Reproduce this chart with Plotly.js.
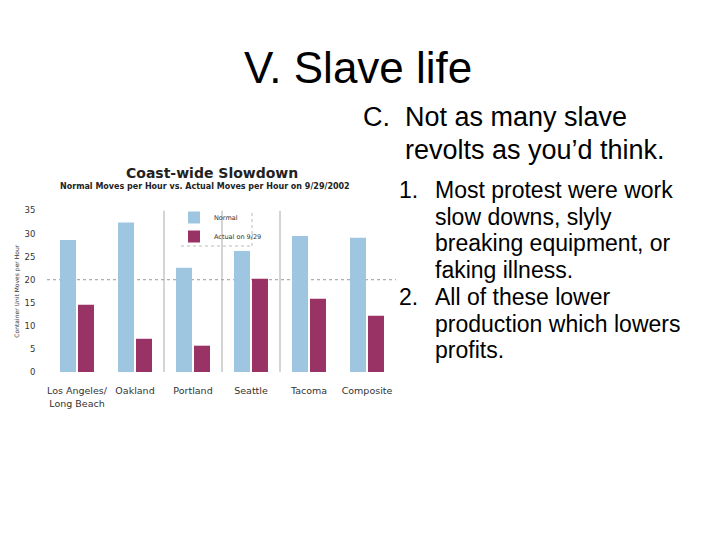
<!DOCTYPE html>
<html>
<head>
<meta charset="utf-8">
<script src="https://cdn.plot.ly/plotly-3.0.1.min.js"></script>
<style>
  html, body { margin: 0; padding: 0; background: #fff; }
  #chart { width: 720px; height: 540px; }
</style>
</head>
<body>
<div id="chart"></div>
<script>
// chart data
var ports = ['Los Angeles/<br>Long Beach', 'Oakland', 'Portland', 'Seattle', 'Tacoma', 'Composite'];
var normalMoves = [28.6, 32.4, 22.6, 26.2, 29.5, 29.1];
var actualMoves = [14.6, 7.2, 5.7, 20.2, 15.9, 12.2];
var yTicks = [0, 5, 10, 15, 20, 25, 30, 35];

// slide text
var slideTitle = 'V. Slave life';
var pointC = ['Not as many slave', 'revolts as you\u2019d think.'];
var point1 = ['Most protest were work', 'slow downs, slyly', 'breaking equipment, or', 'faking illness.'];
var point2 = ['All of these lower', 'production which lowers', 'profits.'];

var W = 720, H = 540;
function px(x) { return x / W; }
function py(y) { return 1 - y / H; }

var chartFont = 'DejaVu Sans, sans-serif';
var slideFont = 'Liberation Sans, Arial, sans-serif';

var normal = {
  type: 'bar', name: 'Normal', x: ports, y: normalMoves,
  marker: { color: '#9ec6e0' }
};
var actual = {
  type: 'bar', name: 'Actual on 9/29', x: ports, y: actualMoves,
  marker: { color: '#993366' }
};

function note(text, x, y, size, family, anchor) {
  return { text: text, x: px(x), y: py(y), xref: 'paper', yref: 'paper',
    xanchor: anchor || 'left', yanchor: 'middle', showarrow: false,
    font: { family: family, size: size, color: '#000' } };
}

var annotations = [
  note(slideTitle, 358, 68, 44, slideFont, 'center'),
  note('<b>Coast-wide Slowdown</b>', 212, 173, 14, chartFont, 'center'),
  note('<b>Normal Moves per Hour vs. Actual Moves per Hour on 9/29/2002</b>', 205, 186, 8, chartFont, 'center'),
  note('C.', 361, 117, 27, slideFont),
  note('1.', 397, 190, 23, slideFont),
  note('2.', 397, 190 + 4 * 26.7, 23, slideFont)
];
annotations[1].font.color = '#222';
annotations[2].font.color = '#222';

pointC.forEach(function (t, i) {
  annotations.push(note(t, 403, 117 + i * 33, 27, slideFont));
});
point1.concat(point2).forEach(function (t, i) {
  annotations.push(note(t, 433, 190 + i * 26.7, 23, slideFont));
});

// thin separators between some port groups, as in the source image
var separators = [1.5, 2.5, 3.5];
var shapes = separators.map(function (s) {
  return { type: 'line', xref: 'x', yref: 'y', x0: s, x1: s, y0: 0, y1: 35,
    line: { color: '#aaa', width: 1 }, layer: 'below' };
});
shapes.push({ type: 'line', xref: 'paper', yref: 'y', x0: px(47), x1: px(396), y0: 20, y1: 20,
  line: { color: '#999', width: 1, dash: 'dot' }, layer: 'below' });
// legend box: white fill hides the separator, dotted right and bottom edges
shapes.push({ type: 'rect', xref: 'paper', yref: 'paper', x0: px(181), x1: px(252), y0: py(246), y1: py(213),
  fillcolor: '#fff', line: { width: 0 }, layer: 'below' });
shapes.push({ type: 'line', xref: 'paper', yref: 'paper', x0: px(181), x1: px(252), y0: py(246), y1: py(246),
  line: { color: '#bbb', width: 1, dash: 'dot' }, layer: 'below' });
shapes.push({ type: 'line', xref: 'paper', yref: 'paper', x0: px(252), x1: px(252), y0: py(213), y1: py(246),
  line: { color: '#bbb', width: 1, dash: 'dot' }, layer: 'below' });

var layout = {
  width: W, height: H,
  margin: { l: 0, r: 0, t: 0, b: 0 },
  paper_bgcolor: '#fff', plot_bgcolor: 'rgba(0,0,0,0)',
  barmode: 'group', bargap: 0.38, bargroupgap: 0.11,
  showlegend: true,
  legend: {
    x: px(174), y: py(203), xanchor: 'left', yanchor: 'top',
    bgcolor: 'rgba(0,0,0,0)', borderwidth: 0,
    font: { family: chartFont, size: 6.5, color: '#333' }
  },
  xaxis: {
    domain: [px(48), px(396)],
    showline: false, showgrid: false, zeroline: false,
    tickfont: { family: chartFont, size: 9.5, color: '#333' },
    ticks: 'outside', ticklen: 10, tickcolor: 'rgba(0,0,0,0)'
  },
  yaxis: {
    domain: [py(372), py(210.5)],
    range: [0, 35], tickvals: yTicks,
    showline: false, showgrid: false, zeroline: false,
    tickfont: { family: chartFont, size: 8.5, color: '#333' },
    ticks: 'outside', ticklen: 10, tickcolor: 'rgba(0,0,0,0)',
    title: { text: 'Container Unit Moves per Hour', standoff: 4,
      font: { family: chartFont, size: 6, color: '#333' } }
  },
  shapes: shapes,
  annotations: annotations
};

Plotly.newPlot('chart', [normal, actual], layout, { staticPlot: true });
</script>
</body>
</html>
